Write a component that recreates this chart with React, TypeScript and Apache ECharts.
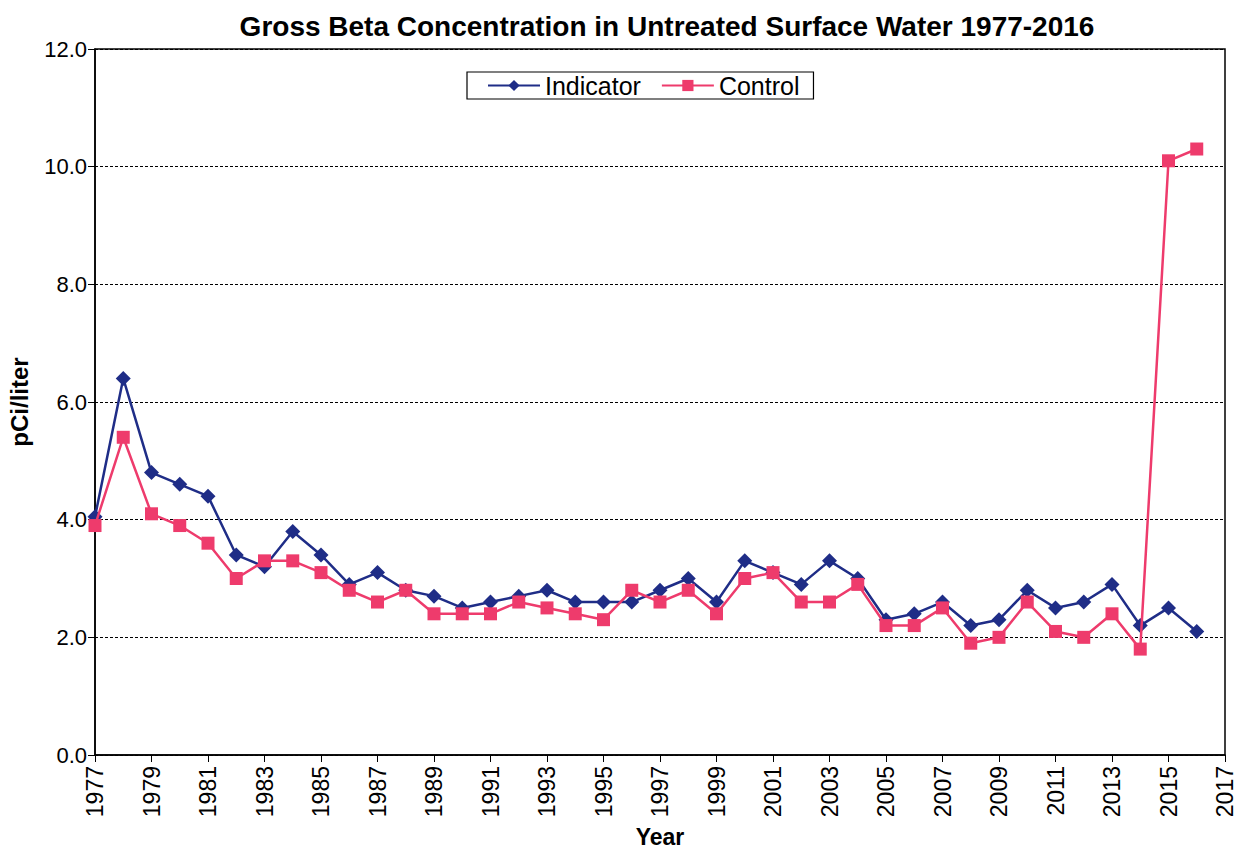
import React, { useEffect, useRef } from "react";
import * as echarts from "echarts";

const years = [
  1977, 1978, 1979, 1980, 1981, 1982, 1983, 1984, 1985, 1986,
  1987, 1988, 1989, 1990, 1991, 1992, 1993, 1994, 1995, 1996,
  1997, 1998, 1999, 2000, 2001, 2002, 2003, 2004, 2005, 2006,
  2007, 2008, 2009, 2010, 2011, 2012, 2013, 2014, 2015, 2016,
];
const indicator = [
  4.05, 6.4, 4.8, 4.6, 4.4, 3.4, 3.2, 3.8, 3.4, 2.9,
  3.1, 2.8, 2.7, 2.5, 2.6, 2.7, 2.8, 2.6, 2.6, 2.6,
  2.8, 3.0, 2.6, 3.3, 3.1, 2.9, 3.3, 3.0, 2.3, 2.4,
  2.6, 2.2, 2.3, 2.8, 2.5, 2.6, 2.9, 2.2, 2.5, 2.1,
];
const control = [
  3.9, 5.4, 4.1, 3.9, 3.6, 3.0, 3.3, 3.3, 3.1, 2.8,
  2.6, 2.8, 2.4, 2.4, 2.4, 2.6, 2.5, 2.4, 2.3, 2.8,
  2.6, 2.8, 2.4, 3.0, 3.1, 2.6, 2.6, 2.9, 2.2, 2.2,
  2.5, 1.9, 2.0, 2.6, 2.1, 2.0, 2.4, 1.8, 10.1, 10.3,
];

const FONT = "Liberation Sans, Arial, sans-serif";

export default function App() {
  const ref = useRef<HTMLDivElement>(null);
  useEffect(() => {
    document.body.style.margin = "0";
    const chart = echarts.init(ref.current!, null, { renderer: "svg" });
    chart.setOption({
      animation: false,
      backgroundColor: "#ffffff",
      title: {
        text: "Gross Beta Concentration in Untreated Surface Water 1977-2016",
        left: 662,
        textAlign: "center",
        top: 7,
        textStyle: { fontFamily: FONT, fontSize: 28, fontWeight: "bold", color: "#000" },
      },
      legend: {
        left: 467,
        top: 72,
        itemGap: 20,
        itemWidth: 52,
        itemHeight: 14,
        padding: [1, 14, 1, 20],
        borderColor: "#000",
        borderWidth: 1.2,
        textStyle: { fontFamily: FONT, fontSize: 25, color: "#000" },
        data: ["Indicator", "Control"],
      },
      grid: {
        left: 95,
        right: 15,
        top: 49,
        bottom: 94,
        outerBoundsMode: "none",
        show: true,
        borderColor: "#000",
        borderWidth: 1.5,
      },
      xAxis: {
        type: "value",
        min: 1977,
        max: 2017,
        interval: 2,
        name: "Year",
        nameLocation: "middle",
        nameGap: 61,
        nameTextStyle: {
          fontFamily: FONT,
          fontSize: 23,
          lineHeight: 23,
          fontWeight: "bold",
          color: "#000",
        },
        axisLine: { lineStyle: { color: "#000", width: 1.5 } },
        axisTick: { show: true, inside: false, length: 7, lineStyle: { color: "#000" } },
        axisLabel: {
          rotate: 90,
          fontFamily: FONT,
          fontSize: 23,
          color: "#000",
          margin: 11,
          formatter: (v: number) => String(v),
        },
        splitLine: { show: false },
      },
      yAxis: {
        type: "value",
        min: 0,
        max: 12,
        interval: 2,
        name: "pCi/liter",
        nameLocation: "middle",
        nameGap: 64,
        nameTextStyle: { fontFamily: FONT, fontSize: 24, fontWeight: "bold", color: "#000" },
        axisLine: { show: true, lineStyle: { color: "#000", width: 1.5 } },
        axisTick: { show: true, inside: false, length: 7, lineStyle: { color: "#000" } },
        axisLabel: {
          fontFamily: FONT,
          fontSize: 22,
          color: "#000",
          margin: 8,
          formatter: (v: number) => v.toFixed(1),
        },
        splitLine: { show: true, lineStyle: { color: "#000", type: [3, 2], width: 1.2 } },
      },
      series: [
        {
          name: "Indicator",
          type: "line",
          data: years.map((y, i) => [y, indicator[i]]),
          symbol: "diamond",
          symbolSize: 15,
          itemStyle: { color: "#1f2d87" },
          lineStyle: { color: "#1f2d87", width: 2.5 },
          z: 2,
        },
        {
          name: "Control",
          type: "line",
          data: years.map((y, i) => [y, control[i]]),
          symbol: "rect",
          symbolSize: 13,
          itemStyle: { color: "#ee3b6c" },
          lineStyle: { color: "#ee3b6c", width: 2.5 },
          z: 3,
        },
      ],
    });
    return () => chart.dispose();
  }, []);
  return <div ref={ref} style={{ width: 1240, height: 849 }} />;
}
